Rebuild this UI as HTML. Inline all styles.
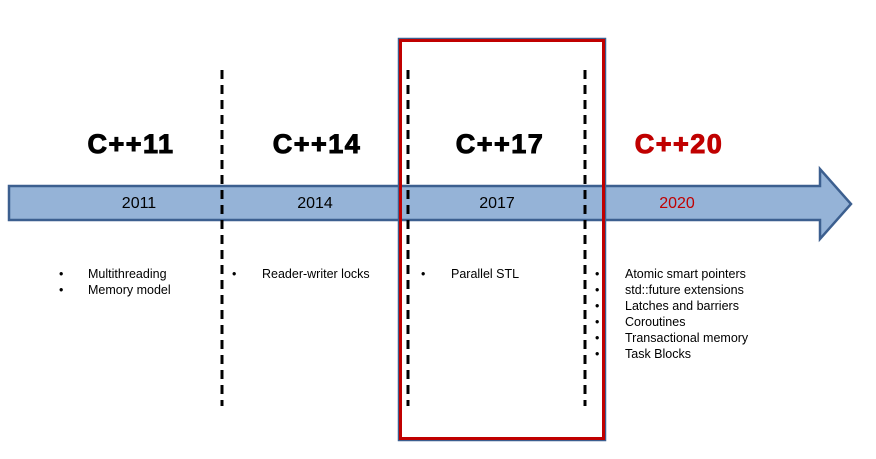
<!DOCTYPE html>
<html><head><style>
html,body{margin:0;padding:0;background:#fff;}
svg{display:block;}
text{font-family:"Liberation Sans",Arial,sans-serif;}
</style></head><body>
<svg width="876" height="459" viewBox="0 0 876 459" xmlns="http://www.w3.org/2000/svg">
<rect width="876" height="459" fill="#fff"/>
<polygon points="9,186 820,186 820,169 851,204 820,239 820,220 9,220" fill="#95b3d7" stroke="#3c5f8f" stroke-width="2.5"/>
<rect x="398.5" y="38.5" width="207" height="402" fill="none" stroke="#3c5f8f" stroke-width="1.5"/>
<rect x="400.5" y="40.5" width="203" height="398" fill="none" stroke="#c00000" stroke-width="3"/>
<g stroke="#000" stroke-width="3" stroke-dasharray="9,6">
<line x1="222" y1="70" x2="222" y2="406"/>
<line x1="408" y1="70" x2="408" y2="406"/>
<line x1="585" y1="70" x2="585" y2="406"/>
</g>
<g font-weight="bold" font-size="27" text-anchor="middle" letter-spacing="1.5" stroke-width="1" >
<text x="131" y="153" stroke="#000">C++11</text>
<text x="317" y="153" stroke="#000">C++14</text>
<text x="500" y="153" stroke="#000">C++17</text>
<text x="679" y="153" fill="#c00000" stroke="#c00000">C++20</text>
</g>
<g font-size="16" text-anchor="middle">
<text x="139" y="208">2011</text>
<text x="315" y="208">2014</text>
<text x="497" y="208">2017</text>
<text x="677" y="208" fill="#c00000">2020</text>
</g>
<g font-size="12.5" fill="#000">
<text x="59" y="278">•</text><text x="88" y="278">Multithreading</text>
<text x="59" y="294">•</text><text x="88" y="294">Memory model</text>
<text x="232" y="278">•</text><text x="262" y="278">Reader-writer  locks</text>
<text x="421" y="278">•</text><text x="451" y="278">Parallel STL</text>
<text x="595" y="278">•</text><text x="625" y="278">Atomic smart pointers</text>
<text x="595" y="294">•</text><text x="625" y="294">std::future extensions</text>
<text x="595" y="310">•</text><text x="625" y="310">Latches and barriers</text>
<text x="595" y="326">•</text><text x="625" y="326">Coroutines</text>
<text x="595" y="342">•</text><text x="625" y="342">Transactional  memory</text>
<text x="595" y="358">•</text><text x="625" y="358">Task Blocks</text>
</g>
</svg>
</body></html>
